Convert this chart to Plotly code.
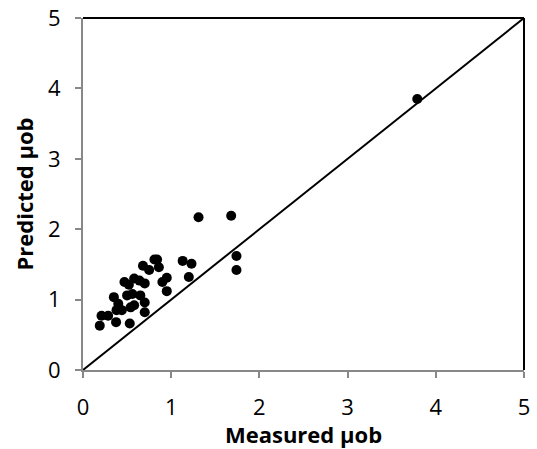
import plotly.graph_objects as go

measured = [3.79, 1.31, 1.68, 1.74, 1.74, 1.13, 1.23, 1.20, 0.95, 0.95, 0.90, 0.84, 0.81,
            0.86, 0.75, 0.68, 0.70, 0.64, 0.58, 0.47, 0.52, 0.50, 0.56, 0.65, 0.70, 0.70,
            0.53, 0.375, 0.19, 0.21, 0.285, 0.35, 0.40, 0.38, 0.44, 0.58, 0.54]
predicted = [3.85, 2.17, 2.19, 1.62, 1.42, 1.55, 1.51, 1.32, 1.12, 1.31, 1.25, 1.57, 1.57,
             1.46, 1.42, 1.48, 1.23, 1.27, 1.30, 1.25, 1.21, 1.06, 1.08, 1.06, 0.96, 0.82,
             0.66, 0.68, 0.63, 0.77, 0.77, 1.035, 0.94, 0.85, 0.85, 0.92, 0.89]
line_x = [0, 5]
line_y = [0, 5]
ticks = [0, 1, 2, 3, 4, 5]

fig = go.Figure()
fig.add_trace(go.Scatter(x=line_x, y=line_y, mode="lines",
                         line=dict(color="black", width=2), showlegend=False))
fig.add_trace(go.Scatter(x=measured, y=predicted, mode="markers",
                         marker=dict(color="black", size=10), showlegend=False))

axis_common = dict(range=[0, 5], tickvals=ticks, showgrid=False, zeroline=False,
                   showline=True, linecolor="#888888", linewidth=2, mirror=False,
                   ticks="outside", ticklen=6, tickcolor="#888888", tickwidth=2,
                   tickfont=dict(size=22, color="black"), automargin=False,
                   ticklabeloverflow="allow")

fig.update_layout(
    width=537, height=449,
    margin=dict(l=83, r=13, t=18, b=79),
    plot_bgcolor="white", paper_bgcolor="white",
    font=dict(family="Open Sans, Liberation Sans, sans-serif", size=22, color="black"),
    xaxis=dict(**axis_common, ticklabelstandoff=11,
               title=dict(text="<b>Measured µob</b>", standoff=0, font=dict(size=22))),
    yaxis=dict(**axis_common, ticklabelstandoff=10,
               title=dict(text="<b>Predicted µob</b>", standoff=8, font=dict(size=22))),
    shapes=[
        dict(type="line", xref="paper", yref="paper", x0=0, x1=1, y0=1, y1=1,
             line=dict(color="black", width=2)),
        dict(type="line", xref="paper", yref="paper", x0=1, x1=1, y0=0, y1=1,
             line=dict(color="black", width=2)),
    ],
)
# remove the default 8px page margin so the figure fills the window exactly
fig.write_html("out.html", config={"displayModeBar": False},
               post_script="document.body.style.margin='0';")
